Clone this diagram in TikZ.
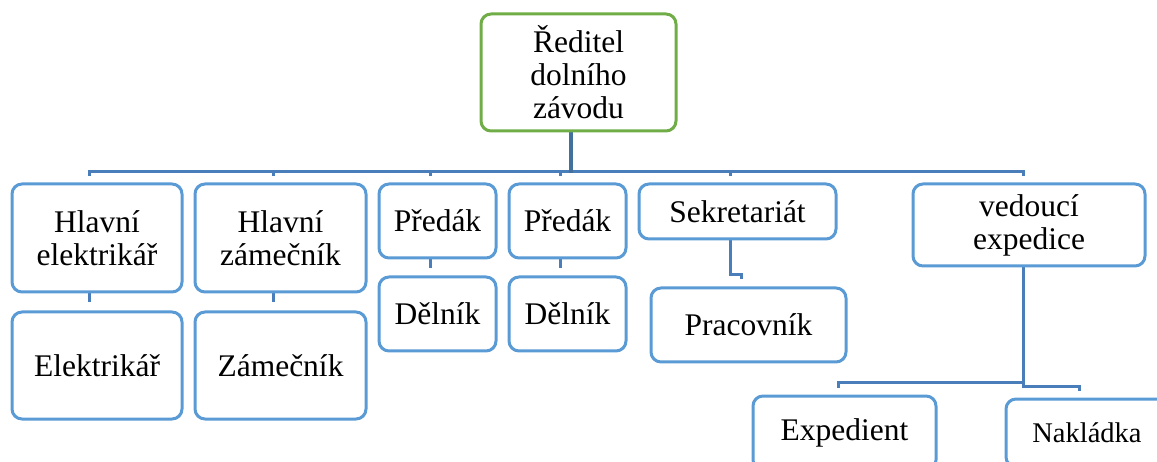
\documentclass[tikz,border=0pt]{standalone}
\usepackage{fontspec}
\setmainfont{Liberation Serif}
\usetikzlibrary{calc}
\definecolor{boxblue}{HTML}{5B9BD5}
\definecolor{linkblue}{HTML}{4A7EBB}
\definecolor{stemblue}{HTML}{41719C}
\definecolor{headgreen}{HTML}{70AD47}
\tikzset{
  orgbox/.style={draw=boxblue, line width=3pt, rounded corners=10pt, fill=white,
    align=center, inner sep=0pt, font=\fontsize{31.5}{33}\selectfont},
  headbox/.style={orgbox, draw=headgreen},
  link/.style={draw=linkblue, line width=3pt, line cap=butt, line join=miter},
  stem/.style={link, draw=stemblue, line width=4pt},
}
\newcommand{\orgnode}[7]{%
  % name, style, x1, y1, x2, y2, text
  \node[#2, minimum width=#5pt-#3pt, minimum height=#6pt-#4pt]
    (#1) at ({(#3+#5)/2},{(#4+#6)/2}) {#7};}
\begin{document}
\begin{tikzpicture}[x=1pt,y=-1pt]
\useasboundingbox (0,0) rectangle (1157,462);
\clip (0,0) rectangle (1157,462);

% connectors (drawn first, boxes sit on top)
\coordinate (stemtop) at (571,131);
\coordinate (bus) at (571,171.5);
\coordinate (t1) at (89,176.5);
\coordinate (t2) at (273,176.5);
\coordinate (t3) at (430,176.5);
\coordinate (t4) at (560,176.5);
\coordinate (t5) at (730,176.5);
\coordinate (t6) at (1023,176.5);
\foreach \t in {t1,t2,t3,t4,t5,t6}
  \draw[link] (bus) -| (\t);
\draw[stem] (stemtop) -- ($(bus)+(0,1.5)$);

% second level stubs
\coordinate (heA) at (89,292);   \coordinate (heB) at (89,302);
\coordinate (hzA) at (273,292);  \coordinate (hzB) at (273,302);
\coordinate (p1A) at (430,258);  \coordinate (p1B) at (430,268);
\coordinate (p2A) at (560,258);  \coordinate (p2B) at (560,268);
\coordinate (skA) at (730,239);  \coordinate (skM) at (730,275);
\coordinate (skB) at (741,279.5);
\coordinate (veA) at (1023,266); \coordinate (veM) at (1023,382);
\coordinate (veL) at (838,387.5);
\coordinate (veN) at (1023,386); \coordinate (veR) at (1079,390.5);
\draw[link] (heA) -- (heB);
\draw[link] (hzA) -- (hzB);
\draw[link] (p1A) -- (p1B);
\draw[link] (p2A) -- (p2B);
\draw[link] (skA) -- (skM) -| (skB);
\draw[link] (veA) -- (veM) -| (veL);
\draw[link] (veM) -- (veN) -| (veR);

% boxes
\orgnode{head}{headbox}{481}{14}{676}{131}{Ředitel\\dolního\\závodu}
\orgnode{he}{orgbox}{12}{184}{182}{292}{Hlavní\\elektrikář}
\orgnode{hz}{orgbox}{195}{184}{366}{292}{Hlavní\\zámečník}
\orgnode{p1}{orgbox}{379}{184}{496}{258}{Předák}
\orgnode{p2}{orgbox}{509}{184}{626}{258}{Předák}
\orgnode{sk}{orgbox}{639}{184}{836}{239}{Sekretariát}
\orgnode{ve}{orgbox}{913}{184}{1145}{266}{vedoucí\\expedice}
\orgnode{el}{orgbox}{12}{312}{182}{419}{Elektrikář}
\orgnode{za}{orgbox}{195}{312}{366}{419}{Zámečník}
\orgnode{d1}{orgbox}{379}{277}{496}{351}{Dělník}
\orgnode{d2}{orgbox}{509}{277}{626}{351}{Dělník}
\orgnode{pr}{orgbox}{651}{288}{846}{362}{Pracovník}
\orgnode{ex}{orgbox}{753}{396}{936}{470}{Expedient}
\orgnode{na}{orgbox, font=\fontsize{28.5}{31}\selectfont}{1006}{399}{1168}{467}{Nakládka}
\end{tikzpicture}
\end{document}
